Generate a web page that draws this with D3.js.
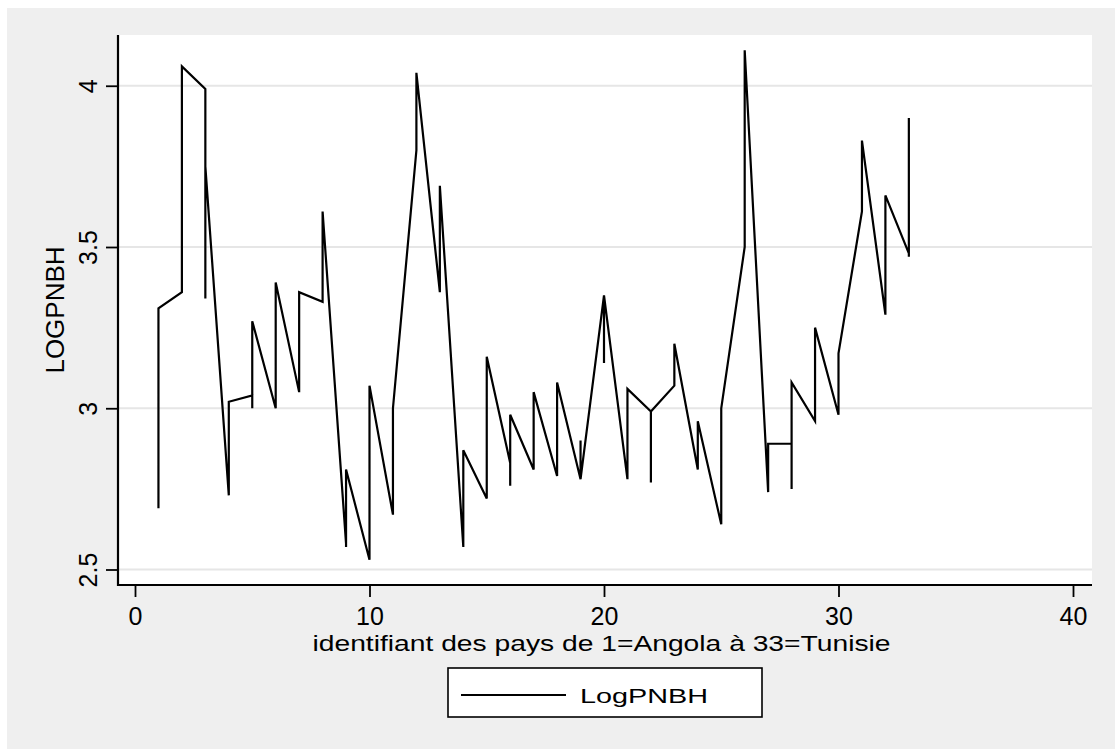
<!DOCTYPE html>
<html>
<head>
<meta charset="utf-8">
<script src="https://cdn.jsdelivr.net/npm/d3@7"></script>
<style>
  html, body { margin: 0; padding: 0; background: #ffffff; }
  svg { display: block; }
  text { font-family: Arial, "Liberation Sans", sans-serif; fill: #000; }
</style>
</head>
<body>
<svg id="chart" width="1115" height="749"></svg>
<script>
// ---- data: one entry per observation, in data order (country id, LogPNBH) ----
const countryId = [
  1,1,1, 2,2,2, 3,3,3, 4,4,4, 5,5,5, 6,6, 7,7, 8,8,
  9,9,9, 10,10, 11,11, 12,12, 13,13, 14,14, 15,15,
  16,16,16, 17,17, 18,18, 19,19,19, 20,20,20, 21,21,
  22,22,22, 23,23, 24,24, 25,25, 26,26, 27,27,
  28,28,28, 29,29, 30,30, 31,31, 32,32, 33,33,33
];
const logPNBH = [
  3.09,2.69,3.31, 3.36,3.74,4.06, 3.99,3.34,3.75, 2.73,2.81,3.02, 3.04,3.00,3.27, 3.00,3.39, 3.05,3.36, 3.33,3.61,
  2.58,2.57,2.81, 2.53,3.07, 2.67,3.00, 3.80,4.04, 3.36,3.69, 2.57,2.87, 2.72,3.16,
  2.83,2.76,2.98, 2.81,3.05, 2.79,3.08, 2.78,2.90,2.78, 3.35,3.14,3.35, 2.78,3.06,
  2.99,2.77,2.99, 3.07,3.20, 2.81,2.96, 2.64,3.00, 3.50,4.11, 2.74,2.89,
  2.89,2.75,3.08, 2.96,3.25, 2.98,3.17, 3.61,3.83, 3.29,3.66, 3.48,3.47,3.90
];
const xTicks = [0, 10, 20, 30, 40];
const yTicks = [2.5, 3, 3.5, 4];
const xTitle = "identifiant des pays de 1=Angola à 33=Tunisie";
const yTitle = "LOGPNBH";
const legendLabel = "LogPNBH";

// ---- layout ----
const svg = d3.select("#chart");
const W = 1115, H = 749;
const plot = { left: 118, right: 1092, top: 35, bottom: 585 };

// outer graph region
svg.append("rect").attr("x", 7).attr("y", 8).attr("width", W - 7).attr("height", H - 8)
  .attr("fill", "#efefef");
// plot region
svg.append("rect").attr("x", plot.left).attr("y", plot.top)
  .attr("width", plot.right - plot.left).attr("height", plot.bottom - plot.top)
  .attr("fill", "#ffffff");

// scales (calibrated to the reference axes)
const x = d3.scaleLinear().domain([0, 40]).range([135, 1073]);
const y = d3.scaleLinear().domain([2.5, 4]).range([569.5, 85.75]);

// gridlines
svg.append("g").selectAll("line").data(yTicks).join("line")
  .attr("x1", plot.left).attr("x2", plot.right)
  .attr("y1", d => y(d)).attr("y2", d => y(d))
  .attr("stroke", "#e6e6e6").attr("stroke-width", 2);

// data line
const pts = countryId.map((id, i) => [id, logPNBH[i]]);
svg.append("path")
  .datum(pts)
  .attr("fill", "none")
  .attr("stroke", "#000")
  .attr("stroke-width", 2.2)
  .attr("stroke-linejoin", "miter")
  .attr("d", d3.line().x(d => x(d[0])).y(d => y(d[1])));

// y axis
const yAxis = d3.axisLeft(y).tickValues(yTicks).tickSize(12).tickFormat(d3.format("~g"));
const gy = svg.append("g").attr("transform", `translate(${plot.left},0)`).call(yAxis);
gy.select(".domain").remove();
gy.selectAll(".tick line").attr("stroke", "#000").attr("stroke-width", 1.8);
gy.selectAll(".tick text").remove();
gy.selectAll(".tick").append("text")
  .attr("transform", "translate(-21,0) rotate(-90)")
  .attr("text-anchor", "middle")
  .attr("font-size", 25)
  .text(d => d3.format("~g")(d));
svg.append("line").attr("x1", plot.left).attr("x2", plot.left)
  .attr("y1", plot.top).attr("y2", plot.bottom + 1)
  .attr("stroke", "#000").attr("stroke-width", 2.2);

// x axis
const xAxis = d3.axisBottom(x).tickValues(xTicks).tickSize(12).tickFormat(d3.format("d"));
const gx = svg.append("g").attr("transform", `translate(0,${plot.bottom})`).call(xAxis);
gx.select(".domain").remove();
gx.selectAll(".tick line").attr("stroke", "#000").attr("stroke-width", 1.8);
gx.selectAll(".tick text").attr("y", 40).attr("dy", null).attr("font-size", 25)
  .attr("font-family", "Arial, 'Liberation Sans', sans-serif").attr("fill", "#000");
svg.append("line").attr("x1", plot.left - 1).attr("x2", plot.right)
  .attr("y1", plot.bottom).attr("y2", plot.bottom)
  .attr("stroke", "#000").attr("stroke-width", 2.2);

// axis titles
svg.append("text")
  .attr("x", 601.5).attr("y", 651)
  .attr("text-anchor", "middle")
  .attr("font-size", 22)
  .attr("textLength", 578).attr("lengthAdjust", "spacingAndGlyphs")
  .text(xTitle);
svg.append("text")
  .attr("transform", `translate(64,310) rotate(-90)`)
  .attr("text-anchor", "middle")
  .attr("font-size", 26)
  .text(yTitle);

// legend
const lg = svg.append("g");
lg.append("rect").attr("x", 448).attr("y", 668).attr("width", 314).attr("height", 49)
  .attr("fill", "#fff").attr("stroke", "#000").attr("stroke-width", 1.6);
lg.append("line").attr("x1", 461).attr("x2", 566).attr("y1", 695).attr("y2", 695)
  .attr("stroke", "#000").attr("stroke-width", 2);
lg.append("text").attr("x", 580).attr("y", 702.5)
  .attr("font-size", 21)
  .attr("textLength", 128).attr("lengthAdjust", "spacingAndGlyphs")
  .text(legendLabel);
</script>
</body>
</html>
